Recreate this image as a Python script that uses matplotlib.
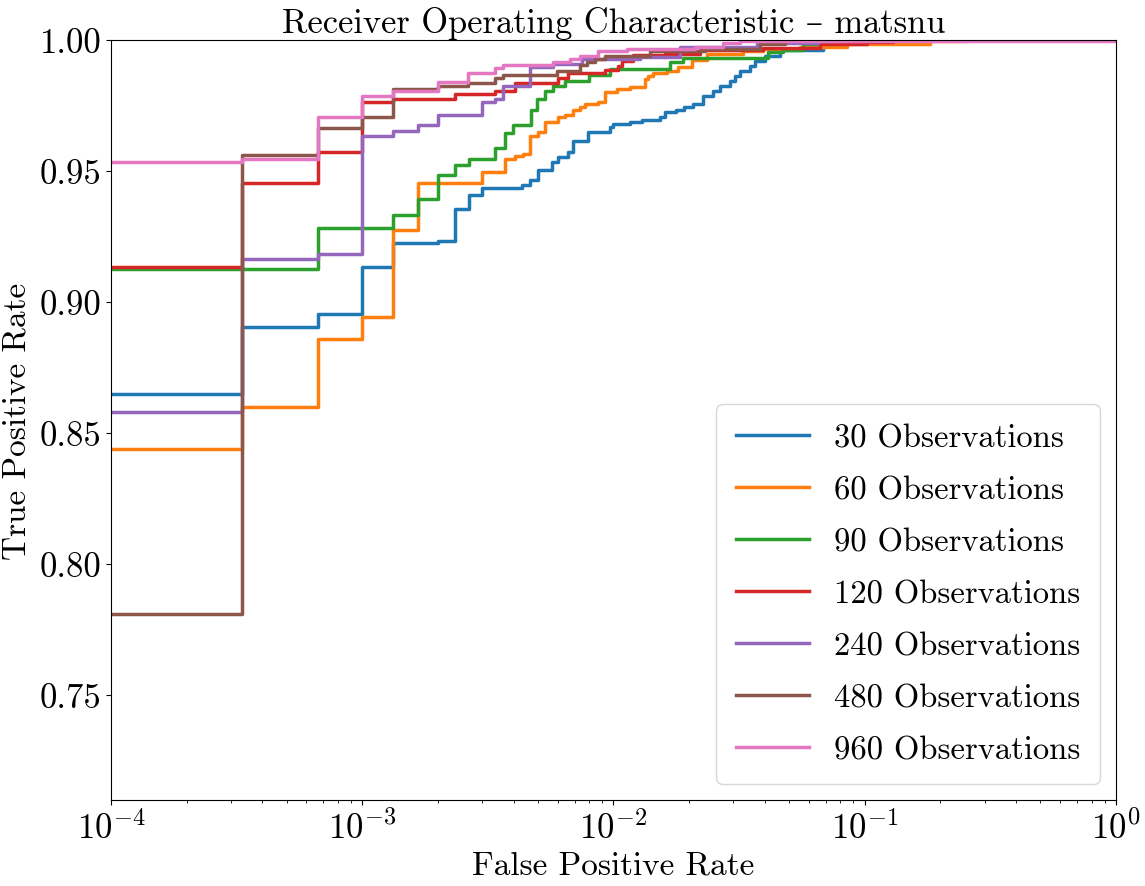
import matplotlib
matplotlib.use("Agg")
import matplotlib.pyplot as plt

plt.rcParams['font.family'] = ['cmr10', 'DejaVu Serif']
plt.rcParams['mathtext.fontset'] = 'cm'
plt.rcParams['axes.formatter.use_mathtext'] = True
plt.rcParams['axes.unicode_minus'] = False

labels = ["30 Observations", "60 Observations", "90 Observations", "120 Observations",
          "240 Observations", "480 Observations", "960 Observations"]
colors = ["#1f77b4", "#ff7f0e", "#2ca02c", "#d62728", "#9467bd", "#8c564b", "#e377c2"]

fpr_30 = [0, 3.33e-4, 6.67e-4, 1.0e-3, 1.33e-3, 2.0e-3, 2.33e-3, 2.67e-3, 3.0e-3, 4.31e-3,
          4.65e-3, 5.0e-3, 5.67e-3, 6.03e-3, 6.61e-3, 6.92e-3, 7.93e-3, 9.68e-3, 1.0e-2, 1.16e-2,
          1.30e-2, 1.53e-2, 1.60e-2, 1.78e-2, 1.90e-2, 2.08e-2, 2.27e-2, 2.49e-2, 2.65e-2, 2.91e-2,
          3.05e-2, 3.19e-2, 3.49e-2, 3.66e-2, 4.01e-2, 4.6e-2, 6.82e-2, 0.179, 1.0]
tpr_30 = [0.865, 0.8905, 0.8955, 0.9134, 0.9225, 0.9234, 0.9356, 0.9407, 0.9437, 0.9447,
          0.9464, 0.9502, 0.9534, 0.9553, 0.9572, 0.9616, 0.9648, 0.9667, 0.968, 0.9686,
          0.9695, 0.9705, 0.9724, 0.9731, 0.9744, 0.9756, 0.9788, 0.9807, 0.9826, 0.9845,
          0.9864, 0.9883, 0.9902, 0.9921, 0.994, 0.9962, 0.9994, 1.0, 1.0]

fpr_60 = [0, 3.33e-4, 6.67e-4, 1.0e-3, 1.33e-3, 1.67e-3, 3.0e-3, 3.70e-3, 4.06e-3, 4.38e-3,
          4.65e-3, 5.02e-3, 5.34e-3, 6.03e-3, 6.41e-3, 6.92e-3, 7.36e-3, 7.70e-3, 8.70e-3, 9.25e-3,
          1.03e-2, 1.16e-2, 1.334e-2, 1.375e-2, 1.44e-2, 1.628e-2, 1.81e-2, 2.05e-2, 2.35e-2, 3.29e-2,
          3.95e-2, 5.5e-2, 8.5e-2, 0.182, 0.254, 1.0]
tpr_60 = [0.844, 0.860, 0.886, 0.8942, 0.9276, 0.9455, 0.9496, 0.9546, 0.9559, 0.9566,
          0.9633, 0.965, 0.9686, 0.9705, 0.9713, 0.9731, 0.9743, 0.9756, 0.9765, 0.9803,
          0.9813, 0.9819, 0.9851, 0.9862, 0.9873, 0.9883, 0.9895, 0.9924, 0.9945, 0.9958,
          0.9966, 0.9973, 0.9985, 0.9996, 1.0, 1.0]

fpr_90 = [0, 6.67e-4, 1.33e-3, 1.67e-3, 2.0e-3, 2.33e-3, 2.67e-3, 3.38e-3, 3.70e-3, 3.99e-3,
          4.68e-3, 4.95e-3, 5.34e-3, 5.73e-3, 6.41e-3, 8.01e-3, 9.68e-3, 1.679e-2, 1.896e-2, 4.13e-2,
          4.73e-2, 5.68e-2, 6.52e-2, 9.87e-2, 1.0]
tpr_90 = [0.9125, 0.9282, 0.9333, 0.9394, 0.9486, 0.9524, 0.9546, 0.9587, 0.9646, 0.9676,
          0.9734, 0.9775, 0.9807, 0.9826, 0.9845, 0.9867, 0.9889, 0.9917, 0.9933, 0.9956,
          0.9963, 0.9984, 0.9994, 1.0, 1.0]

fpr_120 = [0, 3.33e-4, 6.67e-4, 1.0e-3, 1.33e-3, 2.33e-3, 3.38e-3, 4.06e-3, 6.03e-3, 6.61e-3,
           9.25e-3, 1.045e-2, 1.078e-2, 1.199e-2, 1.603e-2, 2.21e-2, 3.94e-2, 6.64e-2, 0.1018, 0.13, 1.0]
tpr_120 = [0.9135, 0.9454, 0.9572, 0.9764, 0.9774, 0.9794, 0.9804, 0.9836, 0.9855, 0.9873,
           0.9886, 0.9902, 0.9921, 0.9943, 0.9947, 0.996, 0.9971, 0.9984, 0.9994, 1.0, 1.0]

fpr_240 = [0, 3.33e-4, 6.67e-4, 1.0e-3, 1.33e-3, 1.67e-3, 2.0e-3, 3.0e-3, 3.38e-3, 3.64e-3,
           4.65e-3, 5.74e-3, 7.49e-3, 1.275e-2, 1.84e-2, 3.73e-2, 6.5e-2, 7.62e-2, 1.0]
tpr_240 = [0.858, 0.9165, 0.9183, 0.9633, 0.9652, 0.9676, 0.9714, 0.9762, 0.9773, 0.9826,
           0.9896, 0.9908, 0.9926, 0.9934, 0.9975, 0.9987, 0.9995, 1.0, 1.0]

fpr_480 = [0, 3.33e-4, 6.67e-4, 1.0e-3, 1.33e-3, 2.0e-3, 2.64e-3, 3.38e-3, 3.64e-3, 5.94e-3,
           7.36e-3, 7.82e-3, 8.44e-3, 9.25e-3, 1.397e-2, 2.31e-2, 3.83e-2, 4.81e-2, 1.0]
tpr_480 = [0.781, 0.9563, 0.9665, 0.9705, 0.9812, 0.9823, 0.9836, 0.9854, 0.9867, 0.9883,
           0.9905, 0.9917, 0.9928, 0.9937, 0.9958, 0.9964, 0.9985, 1.0, 1.0]

fpr_960 = [0, 3.33e-4, 6.67e-4, 1.0e-3, 1.33e-3, 2.0e-3, 2.64e-3, 3.38e-3, 3.64e-3, 5.76e-3,
           6.71e-3, 7.36e-3, 8.70e-3, 1.128e-2, 2.11e-2, 2.74e-2, 3.19e-2, 1.0]
tpr_960 = [0.9534, 0.9545, 0.9705, 0.9787, 0.9804, 0.9841, 0.9873, 0.9892, 0.9905, 0.9917,
           0.9928, 0.9937, 0.9958, 0.9966, 0.9975, 0.9987, 0.9997, 1.0]

fprs = [fpr_30, fpr_60, fpr_90, fpr_120, fpr_240, fpr_480, fpr_960]
tprs = [tpr_30, tpr_60, tpr_90, tpr_120, tpr_240, tpr_480, tpr_960]

fig = plt.figure(figsize=(11.45, 8.87), dpi=100)
ax = fig.add_axes([0.0969, 0.097, 0.8778, 0.8568])
for f, t, c, lab in zip(fprs, tprs, colors, labels):
    ax.plot(f, t, drawstyle='steps-post', color=c, lw=2.5, label=lab)

ax.set_xscale('log')
ax.set_xlim(1e-4, 1)
ax.set_ylim(0.71, 1.0)
ax.set_yticks([0.75, 0.80, 0.85, 0.90, 0.95, 1.00])
ax.set_yticklabels(["0.75", "0.80", "0.85", "0.90", "0.95", "1.00"])
ax.tick_params(labelsize=25)
ax.set_xlabel("False Positive Rate", fontsize=24)
ax.set_ylabel("True Positive Rate", fontsize=24, labelpad=6)
ax.set_title("Receiver Operating Characteristic – matsnu", fontsize=24.8)
ax.legend(loc='lower right', fontsize=23.5, labelspacing=0.7, handlelength=2.25,
          handletextpad=0.75, borderpad=0.6)

fig.savefig("out.png", dpi=100)
